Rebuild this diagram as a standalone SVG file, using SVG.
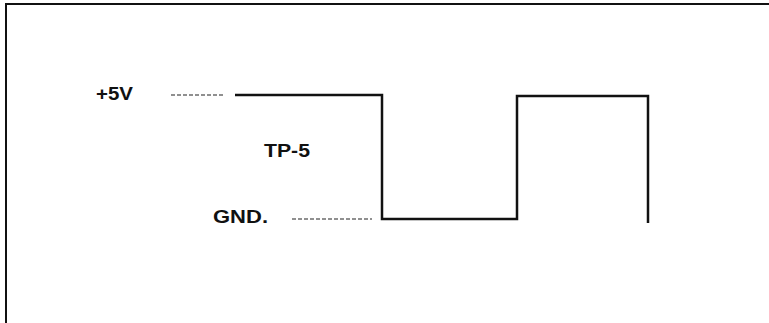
<svg xmlns="http://www.w3.org/2000/svg" width="769" height="323" viewBox="0 0 769 323">
<style>
.lbl{font-family:"Liberation Sans",Arial,sans-serif;font-weight:bold;font-size:17.5px;fill:#111}
.wave{fill:none;stroke:#111;stroke-width:2.5;stroke-linejoin:miter}
.dash{fill:none;stroke:#222;stroke-width:1.2;stroke-dasharray:4 2}
.frame{fill:none;stroke:#111;stroke-width:2}
</style>
<rect width="769" height="323" fill="#fff"/>
<g id="frame"><path class="frame" d="M6,323 V4 H769"/></g>
<g id="labels">
<text id="plus5v" class="lbl" x="96" y="100" textLength="37" lengthAdjust="spacingAndGlyphs">+5V</text>
<text id="tp5" class="lbl" x="264" y="157" textLength="46" lengthAdjust="spacingAndGlyphs">TP-5</text>
<text id="gnd" class="lbl" x="213" y="223" textLength="55" lengthAdjust="spacingAndGlyphs">GND.</text>
</g>
<g id="connectors">
<path class="dash" d="M171,95 H225"/>
<path class="dash" d="M292,219 H372"/>
<path id="waveform" class="wave" d="M235,95 H382 V219 H517 V96 H648 V223"/>
</g>
</svg>
